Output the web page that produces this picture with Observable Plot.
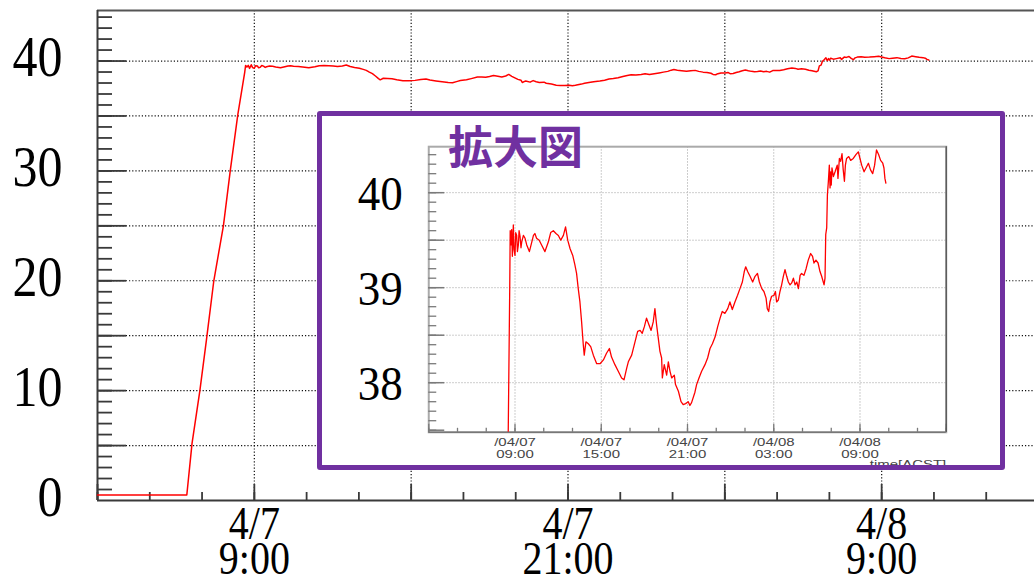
<!DOCTYPE html>
<html>
<head>
<meta charset="utf-8">
<script src="https://cdn.jsdelivr.net/npm/d3@7"></script>
<script src="https://cdn.jsdelivr.net/npm/@observablehq/plot@0.6"></script>
<style>
  html, body { margin: 0; padding: 0; background: #fff; width: 1034px; height: 582px; overflow: hidden; }
  #main { position: absolute; left: 0; top: 0; }
  #inset {
    position: absolute; left: 317px; top: 111px; width: 688px; height: 359px;
    box-sizing: border-box; border: 5.5px solid #7030a0; border-radius: 3px;
    background: #fff; overflow: hidden;
  }
  #inset-plot { position: absolute; left: 0; top: 0; }
  #inset-title {
    position: absolute; left: 126px; top: 6px;
    font-family: "Noto Sans CJK JP", sans-serif; font-weight: 700;
    font-size: 45px; line-height: 1; color: #7030a0; white-space: nowrap;
  }
</style>
</head>
<body>
<div id="main"></div>
<div id="inset">
  <div id="inset-plot"></div>
  <div id="inset-title">拡大図</div>
</div>
<script>
// Logged readings (month/day hour:minute) and their values.
const readingTimes = [
  "04/07 03:00","04/07 06:25","04/07 06:37","04/07 06:55","04/07 07:10","04/07 07:27",
  "04/07 07:49","04/07 08:05","04/07 08:22","04/07 08:38","04/07 08:40","04/07 08:43",
  "04/07 08:46","04/07 08:49","04/07 08:53","04/07 08:56","04/07 09:00","04/07 09:03",
  "04/07 09:07","04/07 09:10","04/07 09:14","04/07 09:17","04/07 09:21","04/07 09:25",
  "04/07 09:28","04/07 09:35","04/07 09:42","04/07 09:49","04/07 10:00","04/07 10:10",
  "04/07 10:17","04/07 10:23","04/07 10:30","04/07 10:41","04/07 10:51","04/07 11:05",
  "04/07 11:19","04/07 11:29","04/07 11:40","04/07 11:51","04/07 12:01","04/07 12:11",
  "04/07 12:22","04/07 12:31","04/07 12:40","04/07 12:50","04/07 13:01","04/07 13:10",
  "04/07 13:17","04/07 13:24","04/07 13:31","04/07 13:38","04/07 13:45","04/07 13:49",
  "04/07 13:56","04/07 14:06","04/07 14:16","04/07 14:27","04/07 14:41","04/07 14:55",
  "04/07 15:09","04/07 15:22","04/07 15:34","04/07 15:43","04/07 15:57","04/07 16:11",
  "04/07 16:25","04/07 16:35","04/07 16:46","04/07 16:53","04/07 17:07","04/07 17:18",
  "04/07 17:32","04/07 17:42","04/07 17:51","04/07 18:00","04/07 18:09","04/07 18:19",
  "04/07 18:28","04/07 18:37","04/07 18:44","04/07 18:51","04/07 18:58","04/07 19:05",
  "04/07 19:12","04/07 19:15","04/07 19:23","04/07 19:33","04/07 19:40","04/07 19:47",
  "04/07 19:54","04/07 20:05","04/07 20:10","04/07 20:22","04/07 20:33","04/07 20:42",
  "04/07 20:52","04/07 21:03","04/07 21:10","04/07 21:17","04/07 21:31","04/07 21:38",
  "04/07 21:48","04/07 21:59","04/07 22:13","04/07 22:24","04/07 22:34","04/07 22:44",
  "04/07 22:55","04/07 23:06","04/07 23:16","04/07 23:25","04/07 23:36","04/07 23:48",
  "04/07 23:57","04/08 00:07","04/08 00:18","04/08 00:29","04/08 00:39","04/08 00:49",
  "04/08 00:57","04/08 01:03","04/08 01:11","04/08 01:21","04/08 01:32","04/08 01:42",
  "04/08 01:52","04/08 02:00","04/08 02:10","04/08 02:19","04/08 02:28","04/08 02:33",
  "04/08 02:39","04/08 02:44","04/08 02:51","04/08 03:01","04/08 03:07","04/08 03:12",
  "04/08 03:19","04/08 03:26","04/08 03:33","04/08 03:40","04/08 03:47","04/08 03:54",
  "04/08 04:01","04/08 04:08","04/08 04:15","04/08 04:22","04/08 04:29","04/08 04:36",
  "04/08 04:43","04/08 04:50","04/08 04:56","04/08 05:06","04/08 05:15","04/08 05:24",
  "04/08 05:34","04/08 05:42","04/08 05:48","04/08 05:56","04/08 06:05","04/08 06:13",
  "04/08 06:20","04/08 06:30","04/08 06:34","04/08 06:37","04/08 06:41","04/08 06:44",
  "04/08 06:48","04/08 06:52","04/08 06:55","04/08 06:58","04/08 07:00","04/08 07:03",
  "04/08 07:09","04/08 07:16","04/08 07:25","04/08 07:28","04/08 07:34","04/08 07:39",
  "04/08 07:45","04/08 07:50","04/08 07:55","04/08 07:59","04/08 08:04","04/08 08:13",
  "04/08 08:21","04/08 08:32","04/08 08:43","04/08 08:53","04/08 09:00","04/08 09:07",
  "04/08 09:17","04/08 09:25","04/08 09:35","04/08 09:44","04/08 09:53","04/08 10:01",
  "04/08 10:09","04/08 10:18","04/08 10:26","04/08 10:35","04/08 10:40","04/08 10:44",
  "04/08 10:48"
];
const readingValues = [
  0.5, 0.5, 5.2, 10.0, 14.6, 20.0,
  25.0, 30.1, 35.1, 39.0, 39.6, 39.45,
  39.61, 39.33, 39.66, 39.40, 39.34, 39.58,
  39.55, 39.38, 39.45, 39.60, 39.54, 39.42,
  39.48, 39.55, 39.52, 39.45, 39.38, 39.48,
  39.55, 39.57, 39.52, 39.50, 39.45, 39.38,
  39.48, 39.58, 39.60, 39.57, 39.55, 39.50,
  39.55, 39.64, 39.50, 39.41, 39.34, 39.24,
  39.15, 38.99, 38.85, 38.64, 38.40, 38.29,
  38.43, 38.41, 38.38, 38.29, 38.20, 38.20,
  38.24, 38.31, 38.36, 38.27, 38.19, 38.12,
  38.05, 38.03, 38.15, 38.22, 38.29, 38.40,
  38.54, 38.55, 38.52, 38.59, 38.68, 38.61,
  38.55, 38.64, 38.78, 38.61, 38.47, 38.33,
  38.26, 38.05, 38.19, 38.08, 38.22, 38.12,
  38.05, 38.08, 37.98, 37.91, 37.80, 37.77,
  37.78, 37.80, 37.76, 37.79, 37.90, 37.98,
  38.05, 38.12, 38.19, 38.26, 38.36, 38.41,
  38.48, 38.59, 38.68, 38.75, 38.73, 38.78,
  38.85, 38.77, 38.85, 38.92, 38.99, 39.06,
  39.17, 39.22, 39.17, 39.12, 39.06, 39.12,
  39.15, 39.06, 38.99, 38.96, 38.89, 38.78,
  38.75, 38.85, 38.91, 38.92, 38.96, 38.85,
  38.87, 38.96, 39.03, 39.12, 39.19, 39.12,
  39.06, 39.03, 39.05, 39.10, 39.03, 39.06,
  38.99, 39.13, 39.15, 39.13, 39.20, 39.29,
  39.36, 39.33, 39.26, 39.29, 39.26, 39.17,
  39.12, 39.03, 39.10, 39.56, 39.63, 39.98,
  40.12, 40.29, 40.05, 40.22, 40.08, 40.26,
  40.17, 40.22, 40.29, 40.15, 40.36, 40.33,
  40.41, 40.24, 40.12, 40.29, 40.36, 40.38,
  40.34, 40.36, 40.40, 40.43, 40.36, 40.29,
  40.22, 40.26, 40.31, 40.24, 40.20, 40.29,
  40.45, 40.40, 40.34, 40.31, 40.26, 40.15,
  40.10
];

// Time window shared by both panels.
const windowStart = "04/07 03:00";
const windowEnd = "04/08 15:00";

// Main panel ticks and labels.
const mainYLabels = [0, 10, 20, 30, 40];
const mainXLabelTimes = ["04/07 09:00", "04/07 21:00", "04/08 09:00"];
const mainXLabelTexts = ["4/7\n9:00", "4/7\n21:00", "4/8\n9:00"];

// Zoomed panel ticks and labels.
const insetYLabels = [38, 39, 40];
const insetXLabelTimes = ["04/07 09:00", "04/07 15:00", "04/07 21:00", "04/08 03:00", "04/08 09:00"];
const insetXLabelTexts = ["/04/07\n09:00", "/04/07\n15:00", "/04/07\n21:00", "/04/08\n03:00", "/04/08\n09:00"];
const insetAxisTitle = "time[ACST]";

const parseTime = d3.utcParse("%Y/%m/%d %H:%M");
const at = s => parseTime("2024/" + s);

const series = readingTimes.map((t, i) => ({time: at(t), value: readingValues[i]}));
const xDomain = [at(windowStart), at(windowEnd)];

// Minor ticks every 2 hours, major ticks (and grid) every 6 hours from the window start.
const spanHours = (xDomain[1] - xDomain[0]) / 36e5;
const hourTicks = d3.range(0, spanHours + 0.01, 2).map(h => d3.utcHour.offset(xDomain[0], h));
const sixHourTicks = d3.range(0, spanHours + 0.01, 6).map(h => d3.utcHour.offset(xDomain[0], h));
const gridTimes = sixHourTicks.filter(d => +d > +xDomain[0] && +d < +xDomain[1]);

// Stretch text glyphs about their anchor point.
function stretchText(svg, fontSize, sx, sy) {
  svg.querySelectorAll(`g[font-size="${fontSize}"] text`).forEach(t => {
    t.setAttribute("transform", (t.getAttribute("transform") || "") + ` scale(${sx},${sy})`);
  });
}

// ---------- main panel ----------
const W = 1038, H = 582, mL = 97, mR = 0, mT = 10, mB = 82;
const fw = W - mL - mR, fh = H - mT - mB;
const yTop = 44.6;
const axisColor = "#3a3a3a";
const dotted = {stroke: "#111", strokeWidth: 1.2, strokeDasharray: "1.2,2"};

const mainPlot = Plot.plot({
  width: W, height: H,
  marginLeft: mL, marginRight: mR, marginTop: mT, marginBottom: mB,
  x: {type: "utc", domain: xDomain, axis: null},
  y: {domain: [0, yTop], axis: null},
  style: {background: "transparent", maxWidth: "none", overflow: "visible"},
  marks: [
    Plot.ruleY(d3.range(5, 41, 5), dotted),
    Plot.ruleX(gridTimes, dotted),
    Plot.ruleY(d3.range(1, 45, 1), {stroke: axisColor, strokeWidth: 1.8, insetRight: fw - 15}),
    Plot.ruleY(d3.range(5, 45, 5), {stroke: axisColor, strokeWidth: 1.8, insetRight: fw - 29}),
    Plot.ruleX(hourTicks, {stroke: axisColor, strokeWidth: 1.8, insetTop: fh - 8}),
    Plot.ruleX(sixHourTicks, {stroke: axisColor, strokeWidth: 1.8, insetTop: fh - 16}),
    Plot.ruleY([0], {stroke: axisColor, strokeWidth: 1.8}),
    Plot.ruleY([yTop], {stroke: "#555", strokeWidth: 2}),
    Plot.ruleX([xDomain[0]], {stroke: axisColor, strokeWidth: 2}),
    Plot.line(series, {x: "time", y: "value", stroke: "#ff0000", strokeWidth: 1.5}),
    Plot.text(mainYLabels, {
      y: d => d, text: d => String(d), frameAnchor: "left", textAnchor: "end",
      dx: -35, dy: -3, fontSize: 50, fontFamily: "Liberation Serif", fill: "#000"
    }),
    Plot.text(mainXLabelTimes, {
      x: d => at(d), text: (d, i) => mainXLabelTexts[i], frameAnchor: "bottom",
      lineAnchor: "top", lineHeight: 0.76, dy: 13.5,
      fontSize: 40, fontFamily: "Liberation Serif", fill: "#000"
    })
  ]
});
stretchText(mainPlot, 50, 1, 1.13);
stretchText(mainPlot, 40, 1, 1.15);
document.getElementById("main").appendChild(mainPlot);

// ---------- zoomed panel ----------
const iW = 677, iH = 348;
const iL = 106.25, iR = 53.25, iT = 30.2, iB = 32.2;
const ifw = iW - iL - iR, ifh = iH - iT - iB;
const iy = [37.478, 40.484];
const tickGrey = "#7a7a7a";
const lightGrid = {stroke: "#bdbdbd", strokeWidth: 1, strokeDasharray: "1.5,1.5"};

const insetPlot = Plot.plot({
  width: iW, height: iH,
  marginLeft: iL, marginRight: iR, marginTop: iT, marginBottom: iB,
  x: {type: "utc", domain: xDomain, axis: null},
  y: {domain: iy, axis: null},
  style: {background: "transparent", maxWidth: "none", overflow: "visible"},
  marks: [
    Plot.ruleY(d3.range(38, 40.01, 0.5), lightGrid),
    Plot.ruleX(gridTimes, lightGrid),
    Plot.frame({stroke: "#aaa", strokeWidth: 2}),
    Plot.ruleY(d3.range(37.5, 40.45, 0.1).map(v => Math.round(v * 10) / 10),
      {stroke: tickGrey, strokeWidth: 1.3, insetRight: ifw - 8}),
    Plot.ruleY(d3.range(37.5, 40.45, 0.5), {stroke: tickGrey, strokeWidth: 1.5, insetRight: ifw - 16}),
    Plot.ruleX(hourTicks, {stroke: tickGrey, strokeWidth: 1.3, insetTop: ifh - 4}),
    Plot.ruleX(sixHourTicks, {stroke: tickGrey, strokeWidth: 1.3, insetTop: ifh - 8}),
    Plot.ruleY([iy[0]], {stroke: "#777", strokeWidth: 1.5}),
    Plot.ruleX([xDomain[1]], {stroke: "#555", strokeWidth: 1.3}),
    Plot.line(series, {x: "time", y: "value", stroke: "#ff0000", strokeWidth: 1.3, clip: true}),
    Plot.text(insetYLabels, {
      y: d => d, text: d => String(d), frameAnchor: "left", textAnchor: "end",
      dx: -26, dy: 1, fontSize: 45, fontFamily: "Liberation Serif", fill: "#000"
    }),
    Plot.text(insetXLabelTimes, {
      x: d => at(d), text: (d, i) => insetXLabelTexts[i], frameAnchor: "bottom",
      lineAnchor: "top", lineHeight: 1.07, dy: 4.9,
      fontSize: 14, fontFamily: "Liberation Sans", fill: "#444"
    }),
    Plot.text([insetAxisTitle], {
      text: d => d, frameAnchor: "bottom-right", textAnchor: "end", lineAnchor: "bottom",
      dy: 35.2, fontSize: 14, fontFamily: "Liberation Sans", fill: "#444"
    })
  ]
});
stretchText(insetPlot, 45, 1, 1.1);
stretchText(insetPlot, 14, 1.07, 0.82);
document.getElementById("inset-plot").appendChild(insetPlot);
</script>
</body>
</html>
